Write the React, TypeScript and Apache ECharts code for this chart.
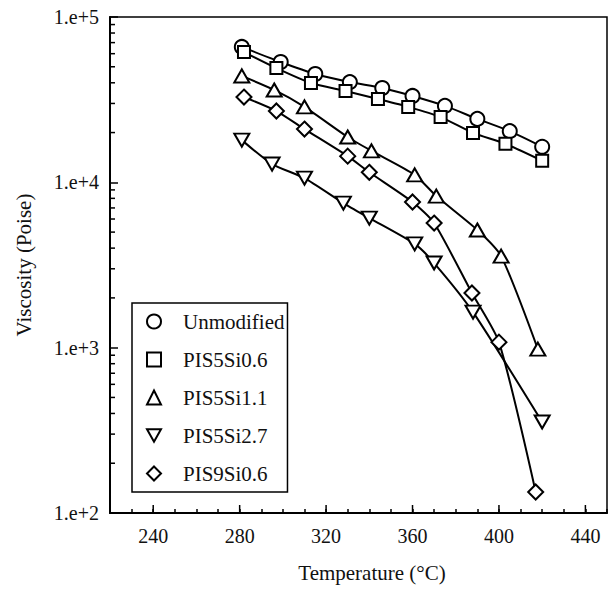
import React, { useEffect, useRef } from "react";
import * as echarts from "echarts";

const FONT = "Liberation Serif, Times New Roman, serif";

const seriesNames = ["Unmodified", "PIS5Si0.6", "PIS5Si1.1", "PIS5Si2.7", "PIS9Si0.6"];

const unmodT = [281, 299, 315, 331, 346, 360, 375, 390, 405, 420];
const unmodV = [65900, 53400, 45200, 40400, 37200, 33300, 29000, 24200, 20400, 16400];

const pis5si06T = [282, 297, 313, 329, 344, 358, 373, 388, 403, 420];
const pis5si06V = [61400, 49100, 39900, 35700, 31900, 28600, 24800, 19900, 17100, 13500];

const pis5si11T = [281, 296, 310, 330, 341, 361, 371, 390, 401, 418];
const pis5si11V = [44000, 36200, 28600, 18800, 15500, 11100, 8260, 5150, 3580, 980];

const pis5si27T = [281, 295, 310, 328, 340, 361, 370, 388, 420];
const pis5si27V = [18000, 12900, 10600, 7490, 6080, 4240, 3250, 1640, 355];

const pis9si06T = [282, 297, 310, 330, 340, 360, 370, 387.5, 400, 417];
const pis9si06V = [32800, 27000, 21000, 14400, 11500, 7600, 5670, 2140, 1080, 134];

const xMin = 220;
const xMax = 450;
const xMajorTicks = [240, 280, 320, 360, 400, 440];
const yMin = 100;
const yMax = 100000;
const yMinorTicks = [
  200, 300, 400, 500, 600, 700, 800, 900,
  2000, 3000, 4000, 5000, 6000, 7000, 8000, 9000,
  20000, 30000, 40000, 50000, 60000, 70000, 80000, 90000,
];

const zip = (t: number[], v: number[]) => t.map((x, i) => [x, v[i]]);

export default function App() {
  const ref = useRef<HTMLDivElement>(null);
  useEffect(() => {
    if (!ref.current) return;
    const chart = echarts.init(ref.current, undefined, { renderer: "svg" });

    const symbolDefs: any[] = [
      { symbol: "circle", size: 14 },
      { symbol: "rect", size: 12 },
      { symbol: "triangle", size: [15, 13] },
      { symbol: "triangle", size: [15, 13], rotate: 180 },
      { symbol: "diamond", size: [15, 15] },
    ];
    const datasets = [
      zip(unmodT, unmodV),
      zip(pis5si06T, pis5si06V),
      zip(pis5si11T, pis5si11V),
      zip(pis5si27T, pis5si27V),
      zip(pis9si06T, pis9si06V),
    ];
    const legendIcons = ["circle", "rect", "triangle", "path://M0,0L10,0L5,9Z", "diamond"];

    const lineSeries = datasets.map((d, i) => ({
      name: seriesNames[i],
      type: "line",
      data: d,
      smooth: 0.22,
      symbol: symbolDefs[i].symbol,
      symbolSize: symbolDefs[i].size,
      symbolRotate: symbolDefs[i].rotate || 0,
      showAllSymbol: true,
      lineStyle: { color: "#000", width: 2 },
      itemStyle: { color: "#fff", borderColor: "#000", borderWidth: 2 },
      z: 3,
    }));

    const option: any = {
      animation: false,
      backgroundColor: "#fff",
      textStyle: { fontFamily: FONT },
      grid: {
        left: 110,
        right: 9,
        top: 17,
        bottom: 77,
        show: true,
        borderColor: "#000",
        borderWidth: 1.5,
        backgroundColor: "transparent",
      },
      xAxis: {
        type: "value",
        min: xMin,
        max: xMax,
        interval: 10,
        axisLine: { show: true, lineStyle: { color: "#000", width: 2 } },
        axisTick: { show: true, inside: true, length: 4, lineStyle: { color: "#000", width: 1.5 } },
        axisLabel: {
          margin: 13,
          color: "#111",
          fontFamily: FONT,
          fontSize: 20,
          formatter: (v: number) => (xMajorTicks.indexOf(v) >= 0 ? String(v) : ""),
        },
        splitLine: { show: false },
      },
      yAxis: {
        type: "log",
        logBase: 10,
        min: yMin,
        max: yMax,
        axisLine: { show: true, lineStyle: { color: "#000", width: 2 } },
        axisTick: { show: true, inside: true, length: 8, lineStyle: { color: "#000", width: 1.5 } },
        axisLabel: {
          margin: 11,
          color: "#111",
          fontFamily: FONT,
          fontSize: 20,
          formatter: (v: number) => "1.e+" + Math.round(Math.log10(v)),
        },
        splitLine: { show: false },
      },
      legend: {
        data: seriesNames.map((n, i) => ({ name: n, icon: legendIcons[i] })),
        orient: "vertical",
        left: 132,
        top: 303,
        itemWidth: 14,
        itemHeight: 14,
        itemGap: 17,
        padding: [8, 3, 8, 14],
        borderColor: "#000",
        borderWidth: 1.5,
        backgroundColor: "#fff",
        itemStyle: { color: "#fff", borderColor: "#000", borderWidth: 2 },
        textStyle: {
          fontFamily: FONT,
          fontSize: 21,
          lineHeight: 21,
          color: "#111",
          padding: [0, 0, 0, 17],
        },
        selectedMode: false,
        z: 10,
      },
      graphic: [
        {
          type: "text",
          x: 372,
          y: 573,
          style: {
            text: "Temperature (\u00B0C)",
            font: "21px " + FONT,
            fill: "#111",
            align: "center",
            verticalAlign: "middle",
          },
        },
        {
          type: "text",
          x: 24,
          y: 265,
          rotation: Math.PI / 2,
          style: {
            text: "Viscosity (Poise)",
            font: "21px " + FONT,
            fill: "#111",
            align: "center",
            verticalAlign: "middle",
          },
        },
      ],
      series: [
        ...lineSeries,
        {
          name: "xMajorTicks",
          type: "custom",
          silent: true,
          clip: false,
          data: xMajorTicks.map((v) => [v, yMin]),
          renderItem: (params: any, api: any) => {
            const p = api.coord([api.value(0), api.value(1)]);
            return {
              type: "line",
              shape: { x1: p[0], y1: p[1], x2: p[0], y2: p[1] - 8 },
              style: { stroke: "#000", lineWidth: 1.5 },
            };
          },
          z: 2,
        },
        {
          name: "yMinorTicks",
          type: "custom",
          silent: true,
          clip: false,
          data: yMinorTicks.map((v) => [xMin, v]),
          renderItem: (params: any, api: any) => {
            const p = api.coord([api.value(0), api.value(1)]);
            return {
              type: "line",
              shape: { x1: p[0], y1: p[1], x2: p[0] + 5, y2: p[1] },
              style: { stroke: "#000", lineWidth: 1.5 },
            };
          },
          z: 2,
        },
      ],
    };
    chart.setOption(option);
    return () => chart.dispose();
  }, []);

  return (
    <div
      ref={ref}
      style={{ position: "fixed", left: 0, top: 0, width: 616, height: 590, background: "#fff" }}
    />
  );
}
